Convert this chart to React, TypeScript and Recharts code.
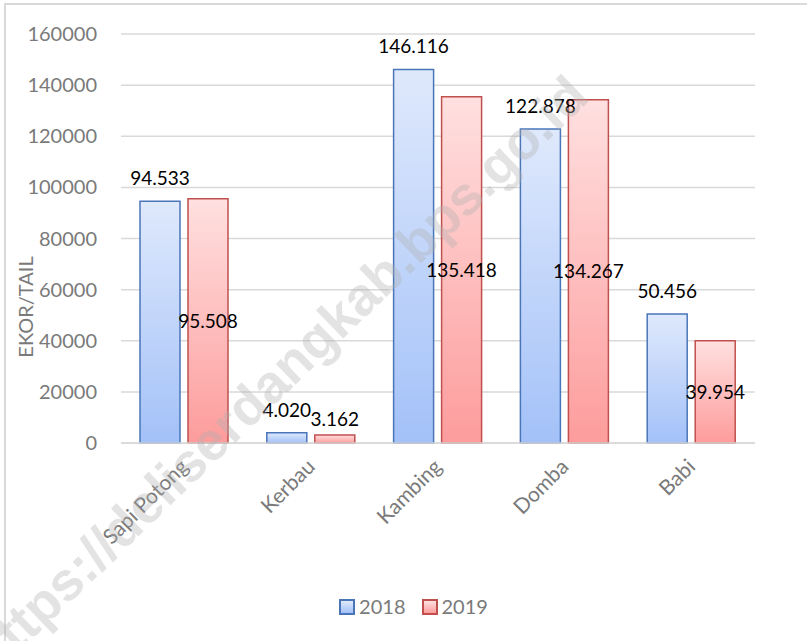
import React from "react";
import { BarChart, Bar, XAxis, YAxis, CartesianGrid, LabelList } from "recharts";

const categories = ["Sapi Potong", "Kerbau", "Kambing", "Domba", "Babi"];
const values2018 = [94533, 4020, 146116, 122878, 50456];
const values2019 = [95508, 3162, 135418, 134267, 39954];
const yTicks = [0, 20000, 40000, 60000, 80000, 100000, 120000, 140000, 160000];
const seriesNames = ["2018", "2019"];

const data = categories.map((name, i) => ({
  name,
  y2018: values2018[i],
  y2019: values2019[i],
}));

const FONT = "Lato, 'Open Sans', sans-serif";
const GREY = "#7a7a7a";

const fmt = (v: number) => String(v).replace(/\B(?=(\d{3})+(?!\d))/g, ".");

// 2018 labels sit above the bar
const TopLabel = (props: any) => {
  const vb = props.viewBox || props;
  const { x, y, width } = vb;
  return (
    <text x={x + width / 2} y={y - 16} textAnchor="middle" fill="#000" fontSize={19} fontFamily={FONT}>
      {fmt(props.value)}
    </text>
  );
};

// 2019 labels are centred in the bar, unless the bar is too short
const CenterLabel = (props: any) => {
  const vb = props.viewBox || props;
  const { x, y, width, height } = vb;
  const cx = x + width / 2;
  if (height < 30) {
    return (
      <text x={cx} y={y - 9} textAnchor="middle" fill="#000" fontSize={19} fontFamily={FONT}>
        {fmt(props.value)}
      </text>
    );
  }
  return (
    <text x={cx} y={y + height / 2 + 7} textAnchor="middle" fill="#000" fontSize={19} fontFamily={FONT}>
      {fmt(props.value)}
    </text>
  );
};

const XTick = ({ x, y, payload }: any) => {
  const ax = x + 5;
  const ay = y + 17;
  return (
    <text
      x={ax}
      y={ay}
      transform={`rotate(-45, ${ax}, ${ay})`}
      textAnchor="end"
      fill={GREY}
      fontSize={21}
      fontFamily={FONT}
    >
      {payload.value}
    </text>
  );
};

const LegendBox = ({ from, to, stroke }: { from: string; to: string; stroke: string }) => (
  <span
    style={{
      display: "inline-block",
      width: 12,
      height: 12,
      border: `2px solid ${stroke}`,
      background: `linear-gradient(${from}, ${to})`,
      marginRight: 4,
      verticalAlign: "-1px",
    }}
  />
);

export default function App() {
  return (
    <div style={{ position: "absolute", left: 0, top: 0, width: 807, height: 641, background: "#fff", overflow: "hidden", fontFamily: FONT }}>
      <div
        style={{
          position: "absolute",
          left: 4,
          top: 3,
          width: 820,
          height: 660,
          borderTop: "2px solid #d9d9d9",
          borderLeft: "2px solid #d9d9d9",
        }}
      />
      <div style={{ position: "absolute", left: 0, top: 0 }}>
        <BarChart
          width={807}
          height={641}
          data={data}
          margin={{ top: 34, right: 52, left: 0, bottom: 0 }}
          barSize={40}
          barGap={8}
        >
          <defs>
            <linearGradient id="gBlue" x1="0" y1="0" x2="0" y2="1">
              <stop offset="0%" stopColor="#dfe9fc" />
              <stop offset="100%" stopColor="#a3c1f8" />
            </linearGradient>
            <linearGradient id="gRed" x1="0" y1="0" x2="0" y2="1">
              <stop offset="0%" stopColor="#ffe0e0" />
              <stop offset="100%" stopColor="#fd9c9c" />
            </linearGradient>
          </defs>
          <CartesianGrid vertical={false} stroke="#d9d9d9" strokeWidth={1.5} />
          <XAxis
            dataKey="name"
            axisLine={{ stroke: "#d9d9d9", strokeWidth: 1.5 }}
            tickLine={false}
            height={198}
            interval={0}
            tick={<XTick />}
          />
          <YAxis
            domain={[0, 160000]}
            ticks={yTicks}
            width={121}
            axisLine={false}
            tickLine={false}
            tickSize={0}
            tickMargin={24}
            tick={{ fill: GREY, fontSize: 20, fontFamily: FONT }}
            label={() => (
              <text
                x={33}
                y={307}
                transform="rotate(-90, 33, 307)"
                textAnchor="middle"
                fill={GREY}
                fontSize={20}
                fontFamily={FONT}
              >
                EKOR/TAIL
              </text>
            )}
          />
          <Bar dataKey="y2018" name={seriesNames[0]} fill="url(#gBlue)" stroke="#4a76b8" strokeWidth={1.5} isAnimationActive={false}>
            <LabelList dataKey="y2018" content={<TopLabel />} />
          </Bar>
          <Bar dataKey="y2019" name={seriesNames[1]} fill="url(#gRed)" stroke="#c0504d" strokeWidth={1.5} isAnimationActive={false}>
            <LabelList dataKey="y2019" content={<CenterLabel />} />
          </Bar>
        </BarChart>
      </div>
      <div
        style={{
          position: "absolute",
          left: 0,
          top: 592,
          width: 827,
          textAlign: "center",
          fontSize: 20,
          color: GREY,
          lineHeight: "28px",
        }}
      >
        <span style={{ marginRight: 16 }}>
          <LegendBox from="#dfe9fc" to="#a3c1f8" stroke="#4a76b8" />
          {seriesNames[0]}
        </span>
        <span>
          <LegendBox from="#ffe0e0" to="#fd9c9c" stroke="#c0504d" />
          {seriesNames[1]}
        </span>
      </div>
      <svg width={807} height={641} style={{ position: "absolute", left: 0, top: 0, pointerEvents: "none" }}>
        <text
          x={292}
          y={388}
          transform="rotate(-44, 292, 388)"
          textAnchor="middle"
          fontSize={54}
          fontWeight="bold"
          fontFamily="'Liberation Sans', Arial, sans-serif"
          fill="#b0b0b0"
          opacity={0.35}
        >
          https://deliserdangkab.bps.go.id
        </text>
      </svg>
    </div>
  );
}
